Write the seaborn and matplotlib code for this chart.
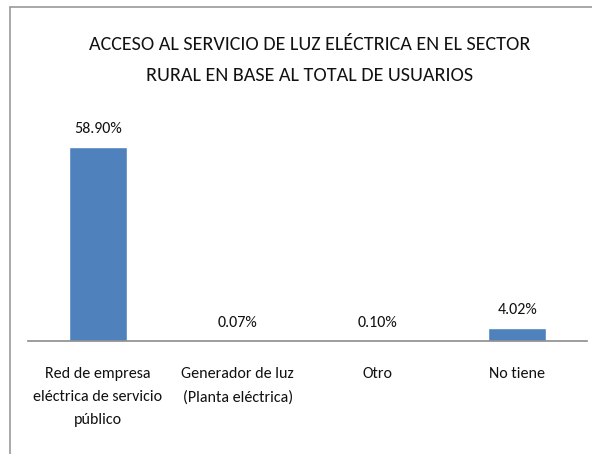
import matplotlib
matplotlib.use("Agg")
import matplotlib.pyplot as plt
import seaborn as sns
import pandas as pd
from matplotlib.lines import Line2D
from matplotlib import font_manager

categories = ["Red de empresa\neléctrica de servicio\npúblico",
              "Generador de luz\n(Planta eléctrica)",
              "Otro",
              "No tiene"]
values = [58.90, 0.07, 0.10, 4.02]
value_labels = ["58.90%", "0.07%", "0.10%", "4.02%"]
title = "ACCESO AL SERVICIO DE LUZ ELÉCTRICA EN EL SECTOR\nRURAL EN BASE AL TOTAL DE USUARIOS"

sns.set_theme(style="white")
available = {f.name for f in font_manager.fontManager.ttflist}
chosen = "DejaVu Sans"
for cand in ["Carlito", "Liberation Sans Narrow", "Roboto Condensed", "Lato", "Liberation Sans"]:
    if cand in available:
        chosen = cand
        break
plt.rcParams['font.family'] = [chosen, 'DejaVu Sans']

W, H = 592, 454
fig = plt.figure(figsize=(W / 100, H / 100), dpi=100)
ax = fig.add_axes([28 / W, 1 - 341 / H, (587 - 28) / W, (341 - 110) / H])

df = pd.DataFrame({"cat": categories, "val": values})
sns.barplot(data=df, x="cat", y="val", color="#4F81BD", width=0.41,
            saturation=1, ax=ax)
ax.set_xlim(-0.5, 3.5)
ax.set_ylim(0, 58.9 * (341 - 110) / 194)

for i, (v, lab) in enumerate(zip(values, value_labels)):
    ax.annotate(lab, (i, v), xytext=(0, 8), textcoords="offset points",
                ha="center", va="bottom", fontsize=11.5, color="#111111")

ax.set_xlabel("")
ax.set_ylabel("")
ax.set_yticks([])
ax.tick_params(axis="x", length=0, pad=19, labelsize=11.5, colors="#111111")
for lbl in ax.get_xticklabels():
    lbl.set_linespacing(1.8)
for s in ["top", "right", "left"]:
    ax.spines[s].set_visible(False)
ax.spines["bottom"].set_color("#8c8c8c")
ax.spines["bottom"].set_linewidth(1.2)

fig.text(310 / W, 1 - 60 / H, title, ha="center", va="center",
         fontsize=14.5, color="#111111", linespacing=1.95)

# outer frame (top and left)
fig.add_artist(Line2D([10 / W, 1.0], [1 - 7 / H, 1 - 7 / H], color="#9a9a9a", lw=1.2))
fig.add_artist(Line2D([10 / W, 10 / W], [0, 1 - 7 / H], color="#9a9a9a", lw=1.2))

fig.savefig("out.png", dpi=100)
